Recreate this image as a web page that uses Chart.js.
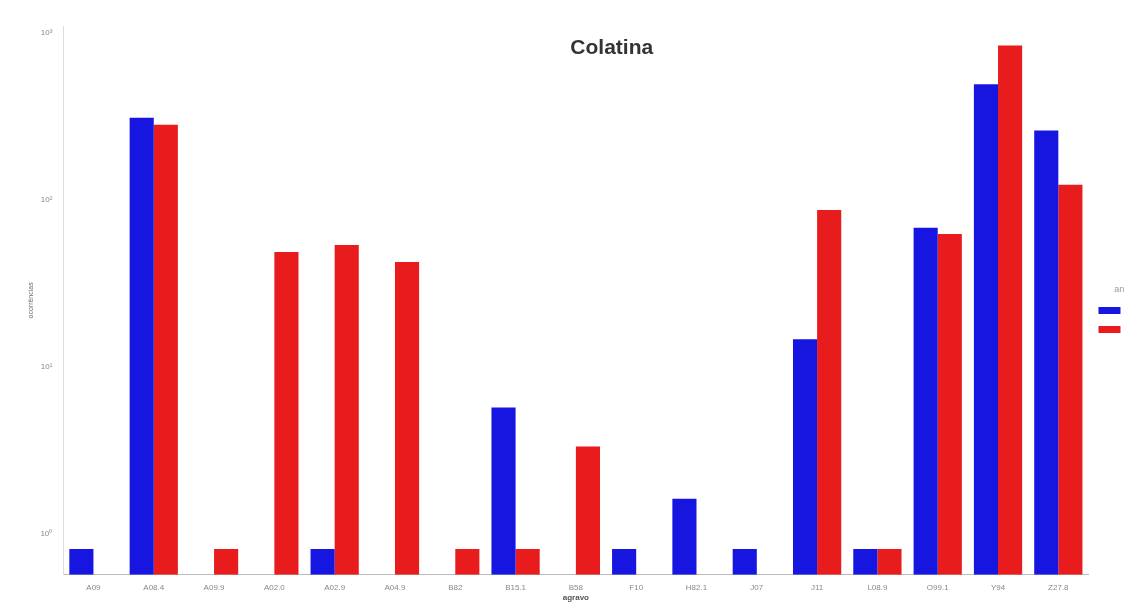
<!DOCTYPE html>
<html>
<head>
<meta charset="utf-8">
<script src="https://cdn.jsdelivr.net/npm/chart.js@4/dist/chart.umd.min.js"></script>
<style>
  html, body { margin: 0; padding: 0; background: #fff; overflow: hidden; }
  #wrap { width: 1155px; height: 607px; }
</style>
</head>
<body>
<div id="wrap"><canvas id="colatinaChart" width="1155" height="607"></canvas></div>
<script>
/*
| Colatina - ocorrências por agravo (log)
*/

var categories = ["A09", "A08.4", "A09.9", "A02.0", "A02.9", "A04.9", "B82", "B15.1", "B58",
                  "F10", "H82.1", "J07", "J11", "L08.9", "O99.1", "Y94", "Z27.8"];
var seriesNames = ["2015", "2016"];
var blueValues = [0.81, 310, null, null, 0.81, null, null, 5.7, null,
                  0.81, 1.62, 0.81, 14.6, 0.81, 68, 492, 260];
var redValues  = [null, 282, 0.81, 48.7, 53.7, 42.4, 0.81, 0.81, 3.33,
                  null, null, null, 87, 0.81, 62.5, 842, 123];
var yTicks = [1, 10, 100, 1000];
var yTickLabels = ["10\u2070", "10\u00b9", "10\u00b2", "10\u00b3"];

var insideTitle = {
    id: 'insideTitle',
    afterDraw: function (chart) {
        var a = chart.chartArea, c = chart.ctx;
        c.save();
        c.font = "bold 21px 'Liberation Sans', Arial, sans-serif";
        c.fillStyle = "#333";
        c.textAlign = "center";
        c.textBaseline = "middle";
        c.fillText("Colatina", a.left + (a.right - a.left) * 0.535, 48);
        c.restore();
    }
};

var ctx = document.getElementById("colatinaChart").getContext("2d");
window.colatina = new Chart(ctx, {
    type: 'bar',
    data: {
        labels: categories,
        datasets: [{
            label: seriesNames[0],
            backgroundColor: "#1616e0",
            data: blueValues
        }, {
            label: seriesNames[1],
            backgroundColor: "#e81c1c",
            data: redValues
        }]
    },
    options: {
        responsive: false,
        animation: false,
        layout: { padding: { top: 26, left: 25, bottom: 4, right: 0 } },
        datasets: { bar: { categoryPercentage: 0.8, barPercentage: 1.0 } },
        plugins: {
            tooltip: { enabled: false },
            legend: {
                position: 'right',
                title: { display: true, text: 'ano', color: '#999', font: { size: 9 } },
                labels: { boxWidth: 22, boxHeight: 7, color: '#777', font: { size: 9 } }
            }
        },
        scales: {
            x: {
                grid: { display: false },
                border: { display: true, color: '#bbb' },
                ticks: { color: '#888', font: { size: 8 }, maxRotation: 0, autoSkip: false, padding: 0 },
                title: { display: true, text: 'agravo', color: '#555', font: { size: 8, weight: 'bold' }, padding: { top: 1, bottom: 0 } }
            },
            y: {
                type: 'logarithmic',
                min: 0.567,
                max: 1100,
                grid: { display: false },
                border: { display: true, color: '#ddd' },
                afterBuildTicks: function (scale) {
                    scale.ticks = yTicks.map(function (v) { return { value: v }; });
                },
                ticks: {
                    color: '#888',
                    font: { size: 8 },
                    callback: function (v) {
                        var i = yTicks.indexOf(v);
                        return i >= 0 ? yTickLabels[i] : '';
                    }
                },
                title: { display: true, text: 'ocorrências', color: '#666', font: { size: 7 }, padding: 2 }
            }
        }
    },
    plugins: [insideTitle]
});
</script>
</body>
</html>
